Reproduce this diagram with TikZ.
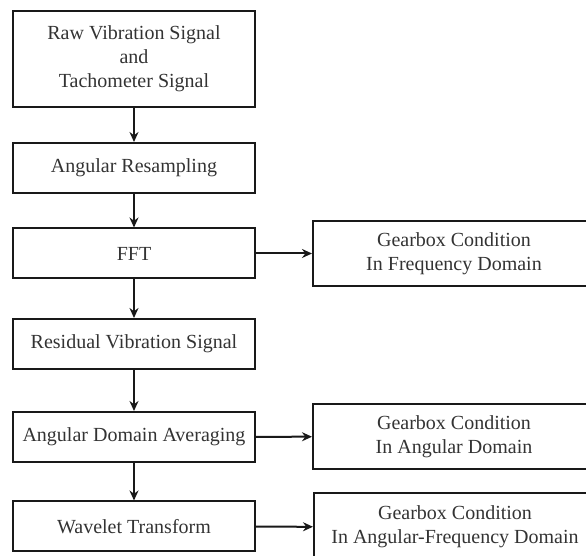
\documentclass[tikz,border=0pt]{standalone}
\usepackage{fontspec}
\setmainfont{Liberation Serif}
\usetikzlibrary{arrows.meta}
\usetikzlibrary{positioning}

\begin{document}
\begin{tikzpicture}
    [%
        x=0.5pt,y=-0.5pt,%
        step box/.style={%
            draw=black!90,%
            line width=1pt,%
            text=black!80,%
            align=center,%
            font=\fontsize{10}{12}\selectfont,%
            minimum width=121pt,%
            minimum height=25pt,%
            inner sep=0pt%
        },%
        result box/.style={%
            step box,%
            minimum width=141pt,%
            minimum height=32.5pt%
        },%
        flow/.style={%
            draw=black!90,%
            line width=1pt,%
            -{Stealth[length=5pt,width=4.5pt]}%
        }%
    ]%
%
    \useasboundingbox (0,0) rectangle (586,556);
%
    % main chain
    \node[step box,minimum height=48pt] (raw) at (134,59)
        {Raw Vibration Signal\\and\\Tachometer Signal};
    \node[step box] (resampling) at (134,168) {Angular Resampling};
    \node[step box] (fft) at (134,253.5) {FFT};
    \node[step box] (residual) at (134,344) {Residual Vibration Signal};
    \node[step box] (averaging) at (134,437) {Angular Domain Averaging};
    \node[step box] (wavelet) at (134,526.5) {Wavelet Transform};
%
    % results
    \node[result box] (freq-domain) at (454,253.5)
        {Gearbox Condition\\In Frequency Domain};
    \node[result box] (ang-domain) at (454,436.5)
        {Gearbox Condition\\In Angular Domain};
    \node[result box,minimum height=33.5pt] (angfreq-domain) at (455,527)
        {Gearbox Condition\\In Angular-Frequency Domain};
%
    \foreach \a/\b in {raw/resampling,resampling/fft,fft/residual,%
        residual/averaging,averaging/wavelet}
        \draw[flow] (\a) -- (\b);
    \draw[flow] (fft) -- (freq-domain);
    \draw[flow] (averaging) -- (ang-domain);
    \draw[flow] (wavelet) -- (angfreq-domain);
\end{tikzpicture}
\end{document}
